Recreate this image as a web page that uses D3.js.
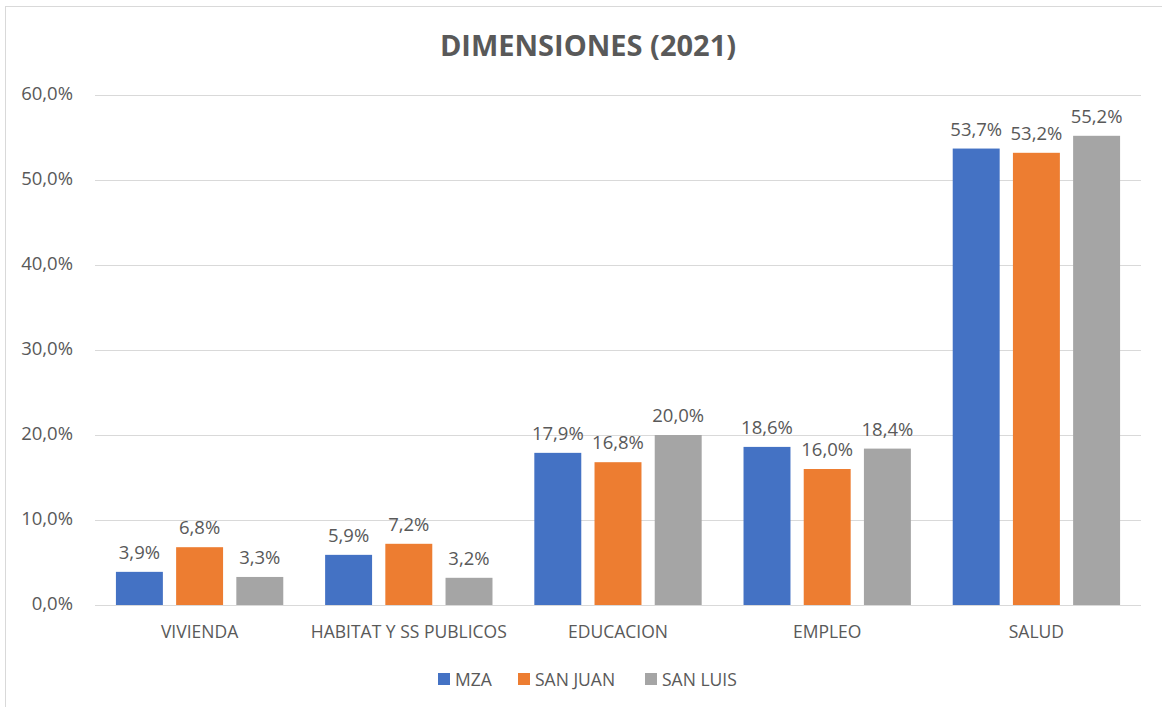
<!DOCTYPE html>
<html lang="es">
<head>
<meta charset="UTF-8">
<title>Dimensiones (2021)</title>
<script src="https://d3js.org/d3.v7.min.js"></script>
<style>
    body { margin: 0; background: #fff; font-family: "Open Sans", "Liberation Sans", sans-serif; }
    text { fill: #595959; }
</style>
</head>
<body>
<svg id="chart" width="1162" height="707"></svg>
<script>
// chart data
const categories = ["VIVIENDA", "HABITAT Y SS PUBLICOS", "EDUCACION", "EMPLEO", "SALUD"];
const seriesNames = ["MZA", "SAN JUAN", "SAN LUIS"];
const mza = [3.9, 5.9, 17.9, 18.6, 53.7];
const sanJuan = [6.8, 7.2, 16.8, 16.0, 53.2];
const sanLuis = [3.3, 3.2, 20.0, 18.4, 55.2];
const yTicks = [0, 10, 20, 30, 40, 50, 60];
const colors = ["#4472c4", "#ed7d31", "#a5a5a5"];

const series = [mza, sanJuan, sanLuis];

const svg = d3.select("#chart");

// outer frame (only top and left show in the picture)
svg.append("rect")
    .attr("x", 5.5).attr("y", 6.5)
    .attr("width", 1200).attr("height", 800)
    .attr("fill", "none")
    .attr("stroke", "#d9d9d9");

const plotL = 95, plotR = 1141, plotT = 95, plotB = 605;

const x0 = d3.scaleBand().domain(categories).range([plotL, plotR]).paddingInner(0.2).paddingOuter(0.1);
const x1 = d3.scaleBand().domain(seriesNames).range([0, x0.bandwidth()]).paddingInner(0.22);
const y = d3.scaleLinear().domain([0, 60]).range([plotB, plotT]);

const fmt = v => d3.format(".1f")(v).replace(".", ",") + "%";

// gridlines
svg.append("g").selectAll("line")
    .data(yTicks.filter(t => t > 0))
    .join("line")
    .attr("x1", plotL).attr("x2", plotR)
    .attr("y1", d => y(d) + 0.5).attr("y2", d => y(d) + 0.5)
    .attr("stroke", "#d9d9d9");

// y tick labels
svg.append("g").selectAll("text")
    .data(yTicks)
    .join("text")
    .attr("x", 73)
    .attr("y", d => y(d) + 5)
    .attr("text-anchor", "end")
    .style("font-size", "18.5px")
    .text(d => fmt(d));

// bars
const groups = svg.append("g").selectAll("g")
    .data(categories)
    .join("g")
    .attr("transform", d => `translate(${x0(d)},0)`);

groups.selectAll("rect")
    .data((c, i) => seriesNames.map((s, j) => ({ s, v: series[j][i], j })))
    .join("rect")
    .attr("x", d => x1(d.s))
    .attr("y", d => y(d.v))
    .attr("width", x1.bandwidth())
    .attr("height", d => y(0) - y(d.v))
    .attr("fill", d => colors[d.j]);

groups.selectAll("text.lbl")
    .data((c, i) => seriesNames.map((s, j) => ({ s, v: series[j][i], j })))
    .join("text")
    .attr("class", "lbl")
    .attr("x", d => x1(d.s) + x1.bandwidth() / 2)
    .attr("y", d => y(d.v) - 13)
    .attr("text-anchor", "middle")
    .style("font-size", "18.5px")
    .text(d => fmt(d.v));

// x axis line
svg.append("line")
    .attr("x1", plotL).attr("x2", plotR)
    .attr("y1", plotB + 0.5).attr("y2", plotB + 0.5)
    .attr("stroke", "#d9d9d9");

// category labels
svg.append("g").selectAll("text")
    .data(categories)
    .join("text")
    .attr("x", d => x0(d) + x0.bandwidth() / 2)
    .attr("y", 638)
    .attr("text-anchor", "middle")
    .style("font-size", "17.5px")
    .text(d => d);

// title
svg.append("text")
    .attr("x", 588).attr("y", 56)
    .attr("text-anchor", "middle")
    .style("font-size", "29px")
    .style("font-weight", "bold")
    .text("DIMENSIONES (2021)");

// legend
const legendX = [438, 518, 645];
const legend = svg.append("g").selectAll("g")
    .data(seriesNames)
    .join("g")
    .attr("transform", (d, i) => `translate(${legendX[i]},673)`);
legend.append("rect").attr("width", 12).attr("height", 12).attr("fill", (d, i) => colors[i]);
legend.append("text")
    .attr("x", 17).attr("y", 12.5)
    .style("font-size", "17.5px")
    .text(d => d);
</script>
</body>
</html>
